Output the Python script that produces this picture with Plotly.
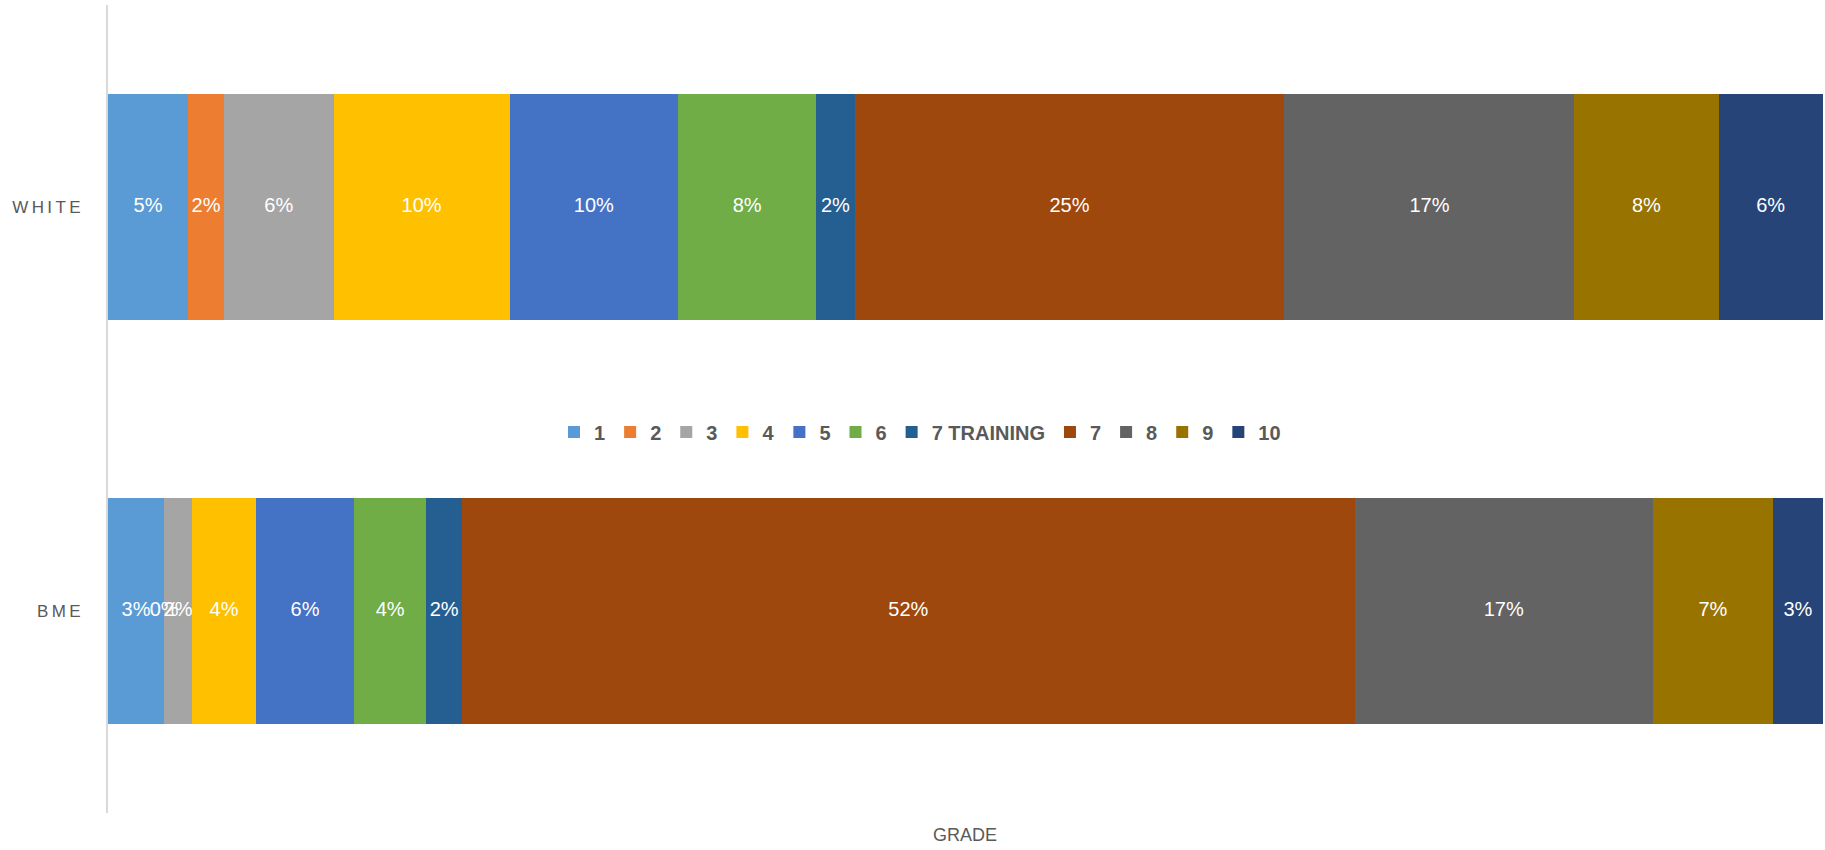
import plotly.graph_objects as go

categories = ["WHITE", "BME"]
grades = ["1", "2", "3", "4", "5", "6", "7 TRAINING", "7", "8", "9", "10"]
white_values = [0.0467, 0.0209, 0.0639, 0.1027, 0.0982, 0.0805, 0.0224, 0.2507, 0.1690, 0.0841, 0.0607]
bme_values = [0.0327, 0.0, 0.0163, 0.0373, 0.0572, 0.0420, 0.0210, 0.5204, 0.1739, 0.0700, 0.0292]
colors = ["#5B9BD5", "#ED7D31", "#A5A5A5", "#FFC000", "#4472C4", "#70AD47",
          "#255E91", "#9E480E", "#636363", "#997300", "#264478"]

cat_labels = {"WHITE": "W\u2009H\u2009I\u2009T\u2009E", "BME": "B\u2009M\u2009E"}
ycats = [cat_labels[c] for c in categories]

FONT = "Liberation Sans, Arial"

fig = go.Figure()
for i, g in enumerate(grades):
    fig.add_trace(go.Bar(
        name=g,
        y=ycats,
        x=[white_values[i], bme_values[i]],
        orientation="h",
        marker=dict(color=colors[i], line=dict(width=0)),
        hoverinfo="x+name",
    ))

# data labels centred in each segment (computed from the data)
lx, ly, lt = [], [], []
for cat, vals in zip(ycats, [white_values, bme_values]):
    cum = 0.0
    for v in vals:
        lx.append(cum + v / 2)
        ly.append(cat)
        lt.append(f"{round(v * 100):.0f}%")
        cum += v
fig.add_trace(go.Scatter(
    x=lx, y=ly, text=lt, mode="text", showlegend=False, hoverinfo="skip",
    textfont=dict(color="white", size=20, family=FONT),
    textposition="middle center", cliponaxis=False,
))

fig.update_layout(
    barmode="stack",
    bargap=0.44,
    width=1825, height=850,
    margin=dict(l=108, r=2, t=5, b=37),
    paper_bgcolor="white", plot_bgcolor="white",
    font=dict(family=FONT, color="#595959"),
    showlegend=True,
    legend=dict(
        orientation="h", x=(920 - 108) / 1715, xanchor="center",
        y=(813 - 432) / 808, yanchor="middle",
        font=dict(size=20, color="#595959", family=FONT, weight="bold"),
        bgcolor="rgba(0,0,0,0)", traceorder="normal", itemwidth=30,
    ),
    xaxis=dict(range=[0, 1], showticklabels=False, showgrid=False, zeroline=False,
               showline=False, fixedrange=True),
    yaxis=dict(categoryorder="array", categoryarray=ycats[::-1],
               showgrid=False, zeroline=False, showline=True, linecolor="#D9D9D9", linewidth=2,
               ticks="", ticklabelstandoff=22,
               tickfont=dict(size=17, color="#595959", family=FONT)),
    annotations=[dict(text="GRADE", xref="paper", yref="paper", showarrow=False,
                      x=(965 - 108) / 1715, y=-(835 - 813) / 808, yanchor="middle",
                      font=dict(size=18, color="#595959", family=FONT))],
)

fig.write_html("out.html", config={"displayModeBar": False},
               post_script="document.body.style.margin='0';document.body.style.padding='0';")
